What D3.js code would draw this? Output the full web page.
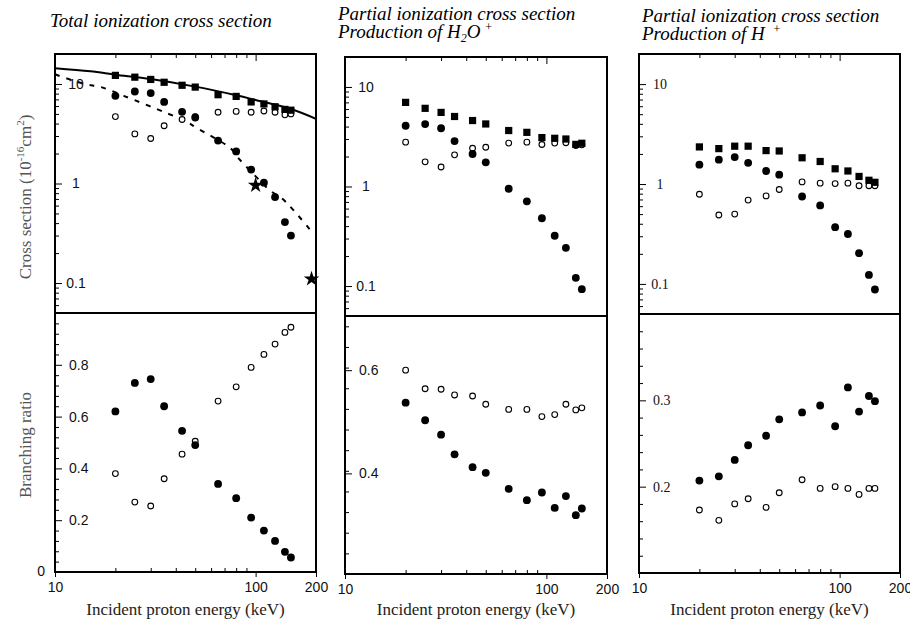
<!DOCTYPE html>
<html>
<head>
<meta charset="utf-8">
<script src="https://cdn.jsdelivr.net/npm/d3@7"></script>
<style>
  body { margin: 0; background: #fff; }
  .frame { fill: none; stroke: #000; stroke-width: 2; }
</style>
</head>
<body>
<div id="chart"></div>
<script>
var energy = [20, 25, 30, 35, 43, 50, 65, 80, 95, 110, 125, 140, 150];

// left column: total ionization
var totalSquares = [12.2, 11.7, 11.1, 10.4, 9.7, 9.3, 7.8, 7.5, 6.6, 6.3, 5.9, 5.55, 5.45];
var totalFilled = [7.6, 8.4, 8.1, 6.6, 5.25, 4.6, 2.7, 2.1, 1.38, 1.02, 0.73, 0.41, 0.30];
var totalOpen = [4.7, 3.15, 2.83, 3.8, 4.4, 4.7, 5.2, 5.3, 5.2, 5.35, 5.2, 4.9, 5.0];
var totalRatioFilled = [0.62, 0.73, 0.745, 0.64, 0.545, 0.49, 0.34, 0.285, 0.21, 0.16, 0.12, 0.078, 0.056];
var totalRatioOpen = [0.38, 0.27, 0.255, 0.36, 0.455, 0.505, 0.66, 0.715, 0.79, 0.84, 0.88, 0.925, 0.945];
var curveEnergy = [10, 15, 20, 30, 50, 80, 100, 150, 200];
var curveTotal = [14.4, 13.4, 12.4, 11.2, 9.4, 7.7, 6.9, 5.6, 4.46];
var dashEnergy = [10, 14, 17, 22, 36, 45, 51, 75, 82, 105, 118, 135, 152, 190];
var dashValues = [12.5, 10, 9.3, 7.6, 5.1, 4.2, 3.6, 2.26, 1.8, 1.07, 0.85, 0.71, 0.56, 0.33];
var starEnergy = [100, 190];
var starValues = [0.96, 0.11];

// middle column: H2O+
var waterSquares = [7.0, 6.1, 5.55, 5.05, 4.6, 4.25, 3.65, 3.5, 3.1, 3.05, 3.0, 2.65, 2.72];
var waterFilled = [4.08, 4.24, 3.85, 2.86, 2.12, 1.75, 0.95, 0.71, 0.48, 0.32, 0.242, 0.121, 0.093];
var waterOpen = [2.79, 1.77, 1.57, 2.08, 2.42, 2.48, 2.73, 2.79, 2.64, 2.73, 2.75, 2.58, 2.62];
var waterRatioFilled = [0.537, 0.503, 0.475, 0.437, 0.412, 0.401, 0.370, 0.348, 0.363, 0.333, 0.356, 0.319, 0.332];
var waterRatioOpen = [0.600, 0.564, 0.563, 0.552, 0.550, 0.534, 0.524, 0.524, 0.510, 0.514, 0.534, 0.523, 0.527];

// right column: H+
var protonSquares = [2.35, 2.26, 2.39, 2.39, 2.16, 2.14, 1.83, 1.68, 1.42, 1.35, 1.19, 1.09, 1.04];
var protonFilled = [1.56, 1.75, 1.86, 1.63, 1.35, 1.24, 0.75, 0.61, 0.37, 0.316, 0.203, 0.123, 0.088];
var protonOpen = [0.79, 0.49, 0.50, 0.69, 0.76, 0.88, 1.05, 1.02, 1.01, 1.02, 0.96, 0.96, 0.96];
var protonRatioFilled = [0.207, 0.212, 0.231, 0.248, 0.259, 0.278, 0.286, 0.294, 0.270, 0.315, 0.287, 0.305, 0.299];
var protonRatioOpen = [0.173, 0.161, 0.180, 0.186, 0.176, 0.193, 0.208, 0.198, 0.200, 0.198, 0.191, 0.198, 0.198];

var xMajor = [10, 100, 200];
var xMinor = [20, 30, 40, 50, 60, 70, 80, 90];
var logMajor = [0.1, 1, 10];

var sans = "'Liberation Sans', Arial, sans-serif",
    serif = "'Liberation Serif', 'Times New Roman', serif";

var panels = [
  {left: 55, top: 54, mid: 313, bottom: 572, width: 261, tickFont: sans,
   squares: totalSquares, filled: totalFilled, open: totalOpen,
   rFilled: totalRatioFilled, rOpen: totalRatioOpen,
   rDomain: [0, 1], rLabels: [0.2, 0.4, 0.6, 0.8], rStep: 0.04},
  {left: 345, top: 57, mid: 316, bottom: 574, width: 262, tickFont: sans,
   squares: waterSquares, filled: waterFilled, open: waterOpen,
   rFilled: waterRatioFilled, rOpen: waterRatioOpen,
   rDomain: [0.205, 0.705], rLabels: [0.4, 0.6], rStep: 0.04},
  {left: 639, top: 54, mid: 314, bottom: 573, width: 261, tickFont: serif,
   squares: protonSquares, filled: protonFilled, open: protonOpen,
   rFilled: protonRatioFilled, rOpen: protonRatioOpen,
   rDomain: [0.1, 0.4], rLabels: [0.2, 0.3], rStep: 0.02}
];

var svg = d3.select("#chart").append("svg")
    .attr("width", 910)
    .attr("height", 626);

var sq = d3.symbol().type(d3.symbolSquare).size(52),
    dot = d3.symbol().type(d3.symbolCircle).size(48),
    ring = d3.symbol().type(d3.symbolCircle).size(26),
    star = d3.symbol().type(d3.symbolStar).size(75);

function range(a, b, step) {
  var out = [];
  for (var i = 0; a + i * step <= b + 1e-9; i++) out.push(+(a + i * step).toFixed(4));
  return out;
}

function cleanAxis(g) {
  g.select(".domain").remove();
  g.selectAll(".tick line").attr("stroke", "#000");
}

panels.forEach(function(p, pi) {
  var x = d3.scaleLog().domain([10, 200]).range([p.left, p.left + p.width]);
  var yTop = d3.scaleLog().domain([0.05, 20]).range([p.mid, p.top]);
  var yBot = d3.scaleLinear().domain(p.rDomain).range([p.bottom, p.mid]);

  var g = svg.append("g");

  // top x ticks, pointing in
  g.append("g").attr("transform", "translate(0," + p.top + ")")
    .call(d3.axisBottom(x).tickValues(xMinor).tickSize(4).tickFormat(""))
    .call(cleanAxis);
  g.append("g").attr("transform", "translate(0," + p.top + ")")
    .call(d3.axisBottom(x).tickValues([100]).tickSize(7).tickFormat(""))
    .call(cleanAxis);

  // log y axis
  var minors = yTop.ticks().filter(function(d) { return logMajor.indexOf(d) < 0; });
  g.append("g").attr("transform", "translate(" + p.left + ",0)")
    .call(d3.axisRight(yTop).tickValues(minors).tickSize(4).tickFormat(""))
    .call(cleanAxis);
  g.append("g").attr("transform", "translate(" + p.left + ",0)")
    .call(d3.axisRight(yTop).tickValues(logMajor).tickSize(7)
      .tickFormat(function(d) { return d3.format("~g")(d); }))
    .call(cleanAxis)
    .selectAll("text")
      .attr("x", 21).attr("text-anchor", "middle")
      .attr("font-family", p.tickFont).attr("font-size", 14).attr("fill", "#111");

  // ratio y axis
  var rTicks = range(p.rDomain[0], p.rDomain[1], p.rStep).filter(function(d) {
    return d > p.rDomain[0] + 1e-6 && d < p.rDomain[1] - 1e-6 && p.rLabels.indexOf(d) < 0;
  });
  g.append("g").attr("transform", "translate(" + p.left + ",0)")
    .call(d3.axisRight(yBot).tickValues(rTicks).tickSize(4).tickFormat(""))
    .call(cleanAxis);
  g.append("g").attr("transform", "translate(" + p.left + ",0)")
    .call(d3.axisRight(yBot).tickValues(p.rLabels).tickSize(7).tickPadding(7)
      .tickFormat(d3.format(".1f")))
    .call(cleanAxis)
    .selectAll("text").attr("font-family", p.tickFont).attr("font-size", 14).attr("fill", "#111");
  if (pi === 0) {
    g.append("text")
      .attr("x", p.left - 10).attr("y", yBot(0)).attr("dy", "0.32em")
      .attr("text-anchor", "end")
      .attr("font-family", sans).attr("font-size", 14).attr("fill", "#111")
      .text("0");
  }

  // bottom x axis
  g.append("g").attr("transform", "translate(0," + p.bottom + ")")
    .call(d3.axisTop(x).tickValues(xMinor).tickSize(4).tickFormat(""))
    .call(cleanAxis);
  g.append("g").attr("transform", "translate(0," + p.bottom + ")")
    .call(d3.axisBottom(x).tickValues(xMajor).tickSize(5).tickPadding(5)
      .tickFormat(d3.format("d")))
    .call(cleanAxis)
    .selectAll("text").attr("font-family", sans).attr("font-size", 14).attr("fill", "#111");

  g.append("text")
    .attr("x", p.left + p.width / 2).attr("y", 615)
    .attr("text-anchor", "middle")
    .attr("font-family", serif).attr("font-size", 17).attr("fill", "#222")
    .text("Incident proton energy (keV)");

  // curves (left column only)
  if (pi === 0) {
    var line = d3.line()
        .x(function(d) { return x(d[0]); })
        .y(function(d) { return yTop(d[1]); })
        .curve(d3.curveCatmullRom);
    g.append("path")
      .datum(d3.zip(curveEnergy, curveTotal))
      .attr("d", line)
      .attr("fill", "none").attr("stroke", "#000").attr("stroke-width", 2);
    g.append("path")
      .datum(d3.zip(dashEnergy, dashValues))
      .attr("d", line)
      .attr("fill", "none").attr("stroke", "#000").attr("stroke-width", 2)
      .attr("stroke-dasharray", "5,7");
    g.selectAll(".star")
      .data(d3.zip(starEnergy, starValues))
      .enter().append("path")
      .attr("d", star)
      .attr("transform", function(d) { return "translate(" + x(d[0]) + "," + yTop(d[1]) + ")"; })
      .attr("fill", "#000");
  }

  // top panel markers
  g.selectAll(".ring").data(d3.zip(energy, p.open)).enter().append("path")
    .attr("d", ring)
    .attr("transform", function(d) { return "translate(" + x(d[0]) + "," + yTop(d[1]) + ")"; })
    .attr("fill", "#fff").attr("stroke", "#000").attr("stroke-width", 1.1);
  g.selectAll(".dot").data(d3.zip(energy, p.filled)).enter().append("path")
    .attr("d", dot)
    .attr("transform", function(d) { return "translate(" + x(d[0]) + "," + yTop(d[1]) + ")"; })
    .attr("fill", "#000");
  g.selectAll(".sq").data(d3.zip(energy, p.squares)).enter().append("path")
    .attr("d", sq)
    .attr("transform", function(d) { return "translate(" + x(d[0]) + "," + yTop(d[1]) + ")"; })
    .attr("fill", "#000");

  // bottom panel markers
  g.selectAll(".rring").data(d3.zip(energy, p.rOpen)).enter().append("path")
    .attr("d", ring)
    .attr("transform", function(d) { return "translate(" + x(d[0]) + "," + yBot(d[1]) + ")"; })
    .attr("fill", "#fff").attr("stroke", "#000").attr("stroke-width", 1.1);
  g.selectAll(".rdot").data(d3.zip(energy, p.rFilled)).enter().append("path")
    .attr("d", dot)
    .attr("transform", function(d) { return "translate(" + x(d[0]) + "," + yBot(d[1]) + ")"; })
    .attr("fill", "#000");

  // frames
  g.append("rect").attr("class", "frame")
    .attr("x", p.left).attr("y", p.top).attr("width", p.width).attr("height", p.mid - p.top);
  g.append("rect").attr("class", "frame")
    .attr("x", p.left).attr("y", p.mid).attr("width", p.width).attr("height", p.bottom - p.mid);
});

// titles
function title(x, y) {
  return svg.append("text").attr("x", x).attr("y", y)
    .attr("font-family", serif).attr("font-size", 19).attr("font-style", "italic");
}
title(50, 27).text("Total ionization cross section");
title(338, 20).text("Partial ionization cross section");
var t2 = title(338, 38).text("Production of H");
t2.append("tspan").attr("dy", 4).attr("font-size", 12).text("2");
t2.append("tspan").attr("dy", -4).text("O");
t2.append("tspan").attr("dy", -7).attr("dx", 4).attr("font-size", 12).text("+");
title(642, 22).text("Partial ionization cross section");
var t3 = title(642, 40).text("Production of H");
t3.append("tspan").attr("dy", -7).attr("dx", 8).attr("font-size", 12).text("+");

// y axis titles
var yt = svg.append("text")
  .attr("transform", "translate(31,197) rotate(-90)")
  .attr("text-anchor", "middle")
  .attr("font-family", serif).attr("font-size", 17).attr("fill", "#555");
yt.append("tspan").text("Cross section (10");
yt.append("tspan").attr("dy", -7).attr("font-size", 11).text("-16");
yt.append("tspan").attr("dy", 7).text("cm");
yt.append("tspan").attr("dy", -7).attr("font-size", 11).text("2");
yt.append("tspan").attr("dy", 7).text(")");

svg.append("text")
  .attr("transform", "translate(31,445) rotate(-90)")
  .attr("text-anchor", "middle")
  .attr("font-family", serif).attr("font-size", 17).attr("fill", "#555")
  .text("Branching ratio");
</script>
</body>
</html>
